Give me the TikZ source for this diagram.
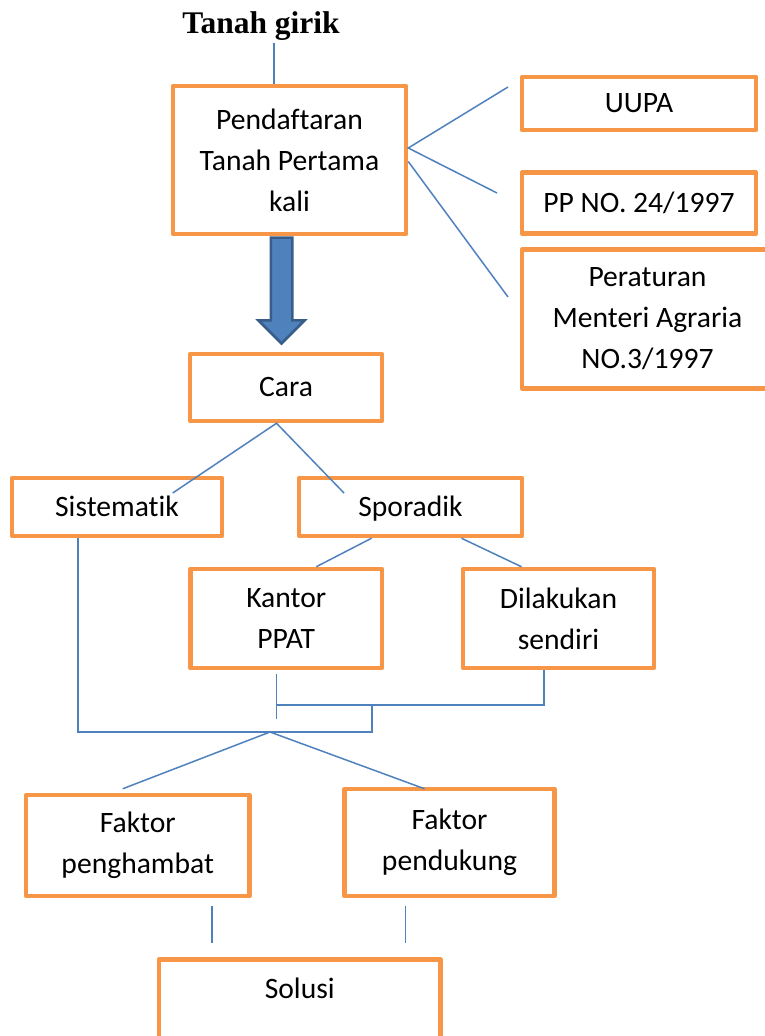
\documentclass[tikz,border=0pt]{standalone}
\usepackage{fontspec}
\setmainfont[Ligatures=NoCommon]{Carlito}
\newfontfamily\judulfont{Liberation Serif}
\usetikzlibrary{shapes.arrows}

\definecolor{oranye}{HTML}{F79646}
\definecolor{birugaris}{HTML}{4F81BD}
\definecolor{birutepi}{HTML}{385D8A}

\begin{document}
\begin{tikzpicture}[
  x=1pt, y=-1pt,
  every node/.style={font=\fontsize{29.6}{41}\selectfont},
  kotak/.style={draw=oranye, line width=4.5pt, line join=round, inner sep=0pt,
                align=center},
  satubaris/.style={text height=18pt, text depth=0pt},
  garis/.style={birugaris, line width=1.5pt},
  panahbiru/.style={single arrow, draw=birutepi, fill=birugaris, line width=2.5pt,
                    inner sep=0pt, inner ysep=9.5pt, single arrow head extend=12.3pt,
                    single arrow tip angle=90, minimum height=106pt},
]
  \useasboundingbox (0,0) rectangle (764,1036);

  % Judul
  \node[font=\judulfont\bfseries\fontsize{31.5}{36}\selectfont, anchor=base]
    (judul) at (261,33) {Tanah girik};

  % Kotak-kotak
  \node[kotak, minimum width=233pt, minimum height=148pt] (tahap) at (289.5,160)
    {Pendaftaran\\Tanah Pertama\\kali};
  \node[kotak, satubaris, minimum width=234pt, minimum height=53pt] (uupa) at (639,103.5)
    {UUPA};
  \node[kotak, satubaris, minimum width=234pt, minimum height=61pt] (pp) at (639,203)
    {PP NO. 24/1997};
  \node[kotak, minimum width=251pt, minimum height=139pt] (permen) at (647.5,319)
    {Peraturan\\Menteri Agraria\\NO.3/1997};
  \node[kotak, satubaris, minimum width=192pt, minimum height=67pt] (cara) at (286,387.5)
    {Cara};
  \node[kotak, satubaris, minimum width=210pt, minimum height=58pt] (sis) at (117,507)
    {Sistematik};
  \node[kotak, satubaris, minimum width=223pt, minimum height=58pt] (spor) at (410.5,507)
    {Sporadik};
  \node[kotak, minimum width=191.5pt, minimum height=99pt] (kantor) at (286.25,618.5)
    {Kantor\\PPAT};
  \node[kotak, minimum width=191pt, minimum height=99pt] (dil) at (558.5,618.5)
    {Dilakukan\\sendiri};
  \node[kotak, minimum width=223.5pt, minimum height=101pt] (hambat) at (137.75,845.5)
    {Faktor\\penghambat};
  \node[kotak, minimum width=210pt, minimum height=107pt] (dukung) at (449.5,842.5)
    {Faktor\\pendukung};
  \node[kotak, text height=18pt, text depth=41pt, minimum width=281.5pt,
        minimum height=100.5pt] (solusi) at (299.75,1009.75) {Solusi};

  % Panah tebal
  \node[panahbiru, rotate=-90, anchor=tail] (panah) at ([xshift=-8pt]tahap.south) {};

  % Garis dari judul dan dasar hukum
  \coordinate (garisjudul) at (274,43);
  \draw[garis] (garisjudul) -- (garisjudul |- tahap.north);
  \coordinate (ujung1) at (508,87);
  \coordinate (ujung2) at (497,193);
  \coordinate (ujung3) at (508,297);
  \draw[garis] (ujung1) -- ([yshift=12pt]tahap.east) -- (ujung2);
  \draw[garis] ([yshift=-1.5pt]tahap.east) -- (ujung3);

  % Cabang cara
  \coordinate (ujung4) at (172.7,493);
  \coordinate (ujung5) at (344,493);
  \draw[garis] (ujung4) -- ([xshift=-9.5pt]cara.south) -- (ujung5);
  \draw[garis] ([xshift=-39pt]spor.south) -- ([xshift=30pt]kantor.north);
  \draw[garis] ([xshift=51pt]spor.south) -- ([xshift=-37pt]dil.north);

  % Penggabung
  \coordinate (sambung) at (372,705);
  \coordinate (pusat) at (270,732);
  \draw[garis] ([xshift=-39pt]sis.south) |- (sambung |- pusat) -- (sambung);
  \draw[garis] ([xshift=-14.5pt]dil.south) |- ([xshift=-10pt]kantor.south |- sambung);
  \draw[garis] ([xshift=-10pt,yshift=-4pt]kantor.south) -- ++(0,45);

  % Faktor dan solusi
  \draw[garis] ([xshift=-15pt,yshift=4pt]hambat.north) -- (pusat)
    -- ([xshift=-25pt,yshift=-2pt]dukung.north);
  \draw[garis] ([xshift=74pt,yshift=-8pt]hambat.south) -- ++(0,37);
  \draw[garis] ([xshift=-44pt,yshift=-8pt]dukung.south) -- ++(0,37);
\end{tikzpicture}
\end{document}
